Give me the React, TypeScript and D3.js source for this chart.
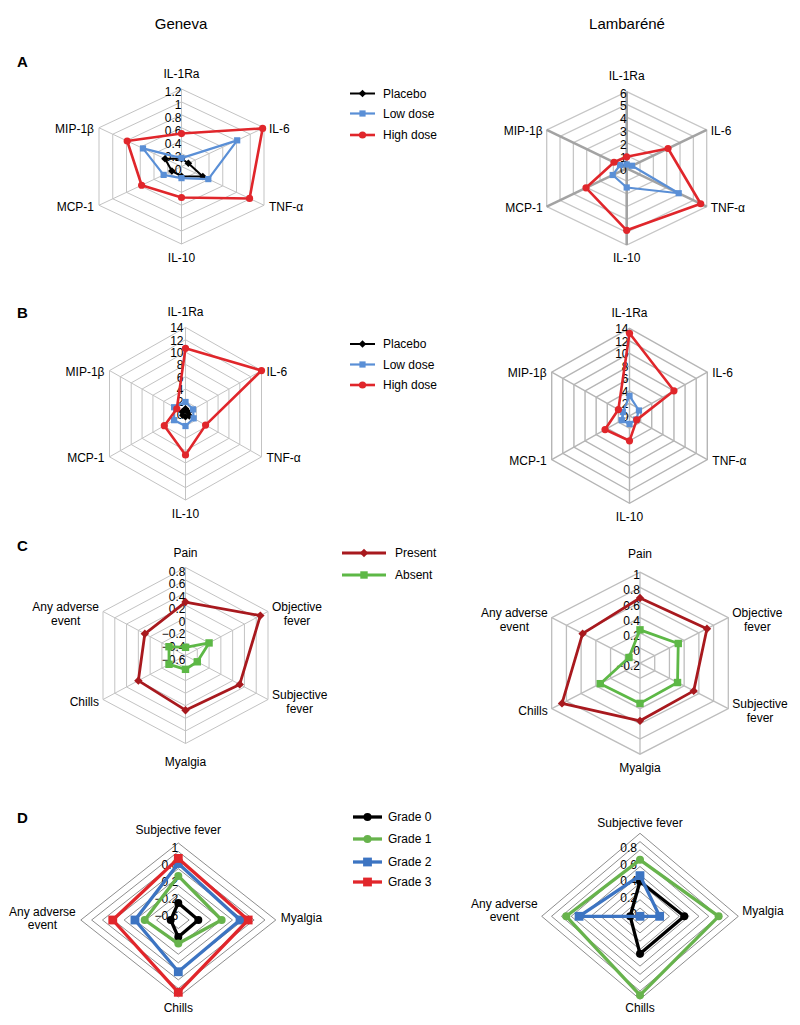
import React from 'react';
import * as d3 from 'd3';

// ---------- DATA ----------
const cytokineAxes = ['IL-1Ra', 'IL-6', 'TNF-α', 'IL-10', 'MCP-1', 'MIP-1β'];
const symptomAxesC = ['Pain', 'Objective\nfever', 'Subjective\nfever', 'Myalgia', 'Chills', 'Any adverse\nevent'];
const symptomAxesD = ['Subjective fever', 'Myalgia', 'Chills', 'Any adverse\nevent'];

// Panel A
const aGenevaPlacebo = [0.12, 0.1, 0.31, 0.15, 0.14, 0.24];
const aGenevaLow = [0.13, 0.81, 0.39, 0.18, 0.26, 0.56];
const aGenevaHigh = [0.51, 1.18, 0.99, 0.48, 0.58, 0.79];
const aLambLow = [0.3, 0.4, 3.9, 1.5, 1.05, 0.5];
const aLambHigh = [0.9, 3.1, 5.55, 4.85, 3.05, 0.95];
const aGenevaTicks = [0, 0.2, 0.4, 0.6, 0.8, 1, 1.2];
const aLambTicks = [0, 1, 2, 3, 4, 5, 6];

// Panel B
const bGenevaPlacebo = [0.8, 0.5, 0.7, 0.5, 0.5, 0.6];
const bGenevaLow = [1.9, 1.4, 1.5, 2.0, 2.1, 2.1];
const bGenevaHigh = [10.6, 14.0, 3.7, 6.7, 3.9, 1.6];
const bLambLow = [3.2, 1.7, 1.2, 1.3, 1.4, 1.2];
const bLambHigh = [13.2, 8.0, 1.3, 4.0, 4.4, 2.0];
const bTicks = [0, 2, 4, 6, 8, 10, 12, 14];

// Panel C
const cGenevaPresent = [0.25, 0.67, 0.32, 0.27, 0.2, 0.09];
const cGenevaAbsent = [-0.47, -0.2, -0.4, -0.38, -0.32, -0.32];
const cLambPresent = [0.66, 0.71, 0.53, 0.56, 0.86, 0.58];
const cLambAbsent = [0.24, 0.32, 0.31, 0.33, 0.34, -0.05];
const cGenevaTicks = [-0.6, -0.4, -0.2, 0, 0.2, 0.4, 0.6, 0.8];
const cLambTicks = [-0.2, 0, 0.2, 0.4, 0.6, 0.8, 1];

// Panel D
const dGenevaG0 = [-0.4, -0.43, -0.4, -0.66];
const dGenevaG1 = [0.23, 0.0, -0.25, -0.18];
const dGenevaG2 = [0.52, 0.34, 0.41, 0.0];
const dGenevaG3 = [0.64, 0.49, 0.89, 0.41];
const dLambG0 = [0.42, 0.45, 0.45, 0.1];
const dLambG1 = [0.68, 0.8, 0.95, 0.75];
const dLambG2 = [0.49, 0.2, 0, 0.62];
const dGenevaTicks = [-0.6, -0.2, 0.2, 0.6, 1];
const dLambTicks = [0, 0.2, 0.4, 0.6, 0.8];

const legendA = ['Placebo', 'Low dose', 'High dose'];
const legendC = ['Present', 'Absent'];
const legendD = ['Grade 0', 'Grade 1', 'Grade 2', 'Grade 3'];

// ---------- STYLES ----------
const FONT = "'Liberation Sans', Arial, Helvetica, sans-serif";
const C_BLACK = '#000000';
const C_LOW = '#5a8fd6';
const C_HIGH = '#e0262b';
const C_PRESENT = '#a8191e';
const C_ABSENT = '#5db846';
const C_G1 = '#67b34c';
const C_G2 = '#3c74c2';
const C_G3 = '#e1262b';

type MarkerType = 'circle' | 'square' | 'diamond';
type Series = { values: number[]; color: string; marker: MarkerType; width: number; ms: number };

const sPlacebo = (v: number[]): Series => ({ values: v, color: C_BLACK, marker: 'diamond', width: 2, ms: 3.8 });
const sLow = (v: number[]): Series => ({ values: v, color: C_LOW, marker: 'square', width: 2.2, ms: 3.1 });
const sHigh = (v: number[]): Series => ({ values: v, color: C_HIGH, marker: 'circle', width: 2.6, ms: 3.6 });
const sPresent = (v: number[]): Series => ({ values: v, color: C_PRESENT, marker: 'diamond', width: 2.8, ms: 4.2 });
const sAbsent = (v: number[]): Series => ({ values: v, color: C_ABSENT, marker: 'square', width: 2.8, ms: 3.7 });
const sG0 = (v: number[]): Series => ({ values: v, color: C_BLACK, marker: 'circle', width: 3.3, ms: 4 });
const sG1 = (v: number[]): Series => ({ values: v, color: C_G1, marker: 'circle', width: 3.3, ms: 4 });
const sG2 = (v: number[]): Series => ({ values: v, color: C_G2, marker: 'square', width: 3.3, ms: 4.4 });
const sG3 = (v: number[]): Series => ({ values: v, color: C_G3, marker: 'square', width: 3.3, ms: 4.4 });

let _ctx: CanvasRenderingContext2D | null = null;
function textWidth(t: string, size: number) {
  if (!_ctx) {
    const c = document.createElement('canvas');
    _ctx = c.getContext('2d');
  }
  if (!_ctx) return t.length * size * 0.55;
  _ctx.font = `${size}px ${FONT}`;
  return _ctx.measureText(t).width;
}

function Marker({ type, x, y, s, color }: { type: MarkerType; x: number; y: number; s: number; color: string }) {
  if (type === 'circle') return <circle cx={x} cy={y} r={s} fill={color} />;
  if (type === 'square') return <rect x={x - s} y={y - s} width={2 * s} height={2 * s} fill={color} />;
  return <path d={`M${x},${y - s}L${x + s},${y}L${x},${y + s}L${x - s},${y}Z`} fill={color} />;
}

type Geo = {
  cx: number; cy: number; rx: number; ry: number;
  domain: [number, number]; rings: number; ticks: number[];
  tickDy: number; tickDx: number;
  ringColor: string; ringWidth: number; spokeColor: string; spokeWidth: number; spokes: boolean;
  topGap: number; bottomGap: number; sidePad: number; sideDy: number;
};

function fmt(v: number) {
  const s = d3.format('~g')(Math.round(v * 1000) / 1000);
  return s.replace('-', '\u2212');
}

function Radar({ geo, axes, series }: { geo: Geo; axes: string[]; series: Series[] }) {
  const n = axes.length;
  const r = d3.scaleLinear().domain(geo.domain).range([0, 1]);
  const ang = (i: number) => (2 * Math.PI * i) / n;
  const pt = (i: number, f: number): [number, number] => [
    geo.cx + geo.rx * f * Math.sin(ang(i)),
    geo.cy - geo.ry * f * Math.cos(ang(i)),
  ];
  const closed = d3.line().curve(d3.curveLinearClosed);
  const ringFr = d3.range(1, geo.rings + 1).map((k) => k / geo.rings);
  const fs = 12;
  const lh = 13.5;
  return (
    <g>
      {ringFr.map((f, k) => (
        <path key={'r' + k} d={closed(d3.range(n).map((i) => pt(i, f))) || ''} fill="none" stroke={geo.ringColor} strokeWidth={geo.ringWidth} />
      ))}
      {geo.spokes &&
        d3.range(n).map((i) => {
          const [x, y] = pt(i, 1);
          return <line key={'s' + i} x1={geo.cx} y1={geo.cy} x2={x} y2={y} stroke={geo.spokeColor} strokeWidth={geo.spokeWidth} />;
        })}
      {geo.ticks.map((v, k) => (
        <text key={'t' + k} x={geo.cx + geo.tickDx} y={geo.cy - geo.ry * r(v) + geo.tickDy} textAnchor="end" dominantBaseline="central" fontSize={fs} fontFamily={FONT} fill="#000">
          {fmt(v)}
        </text>
      ))}
      {axes.map((label, i) => {
        const lines = label.split('\n');
        const [vx, vy] = pt(i, 1);
        const s = Math.sin(ang(i));
        const c = Math.cos(ang(i));
        if (Math.abs(s) < 0.1) {
          if (c > 0) {
            const base = vy - geo.topGap - (lines.length - 1) * lh;
            return (
              <text key={'l' + i} x={vx} y={base} textAnchor="middle" fontSize={fs} fontFamily={FONT}>
                {lines.map((ln, j) => <tspan key={j} x={vx} dy={j === 0 ? 0 : lh}>{ln}</tspan>)}
              </text>
            );
          }
          return (
            <text key={'l' + i} x={vx} y={vy + geo.bottomGap} textAnchor="middle" fontSize={fs} fontFamily={FONT}>
              {lines.map((ln, j) => <tspan key={j} x={vx} dy={j === 0 ? 0 : lh}>{ln}</tspan>)}
            </text>
          );
        }
        const w = Math.max(...lines.map((ln) => textWidth(ln, fs)));
        const x = s > 0 ? vx + geo.sidePad + w / 2 : vx - geo.sidePad - w / 2;
        const y0 = vy + geo.sideDy - ((lines.length - 1) * lh) / 2 + fs * 0.36;
        return (
          <text key={'l' + i} x={x} y={y0} textAnchor="middle" fontSize={fs} fontFamily={FONT}>
            {lines.map((ln, j) => <tspan key={j} x={x} dy={j === 0 ? 0 : lh}>{ln}</tspan>)}
          </text>
        );
      })}
      {series.map((se, k) => {
        const pts = se.values.map((v, i) => pt(i, r(v)));
        return (
          <g key={'se' + k}>
            <path d={closed(pts) || ''} fill="none" stroke={se.color} strokeWidth={se.width} strokeLinejoin="round" />
            {pts.map(([x, y], i) => <Marker key={i} type={se.marker} x={x} y={y} s={se.ms} color={se.color} />)}
          </g>
        );
      })}
    </g>
  );
}

function Legend({ x1, x2, tx, ys, labels, series }: { x1: number; x2: number; tx: number; ys: number[]; labels: string[]; series: Series[] }) {
  return (
    <g>
      {labels.map((lab, i) => {
        const se = series[i];
        const y = ys[i];
        return (
          <g key={i}>
            <line x1={x1} x2={x2} y1={y} y2={y} stroke={se.color} strokeWidth={se.width} />
            <Marker type={se.marker} x={(x1 + x2) / 2} y={y} s={se.ms} color={se.color} />
            <text x={tx} y={y} dominantBaseline="central" fontSize={12} fontFamily={FONT}>{lab}</text>
          </g>
        );
      })}
    </g>
  );
}

const H = 1 / Math.sin(Math.PI / 3);
const thin = { ringColor: '#c3c3c3', ringWidth: 1, spokeColor: '#c3c3c3', spokeWidth: 1, spokes: true };

const geoAG: Geo = { cx: 181.5, cy: 166.5, rx: 82.5 * H, ry: 77.5, domain: [0, 1.2], rings: 6, ticks: aGenevaTicks, tickDy: 3, tickDx: 0, ...thin, topGap: 11, bottomGap: 18, sidePad: 5, sideDy: 1 };
const geoAL: Geo = { cx: 626.7, cy: 168.3, rx: 80 * H, ry: 76.7, domain: [0, 6], rings: 6, ticks: aLambTicks, tickDy: 2, tickDx: 0, ringColor: '#c6c6c6', ringWidth: 1.3, spokeColor: '#a3a3a3', spokeWidth: 2.6, spokes: true, topGap: 12, bottomGap: 17, sidePad: 4, sideDy: 1 };
const geoBG: Geo = { cx: 185.5, cy: 413.7, rx: 76 * H, ry: 86.3, domain: [0, 14], rings: 7, ticks: bTicks, tickDy: 1, tickDx: -2, ...thin, topGap: 11, bottomGap: 18, sidePad: 5, sideDy: 1 };
const geoBL: Geo = { cx: 629.5, cy: 415.8, rx: 77.8 * H, ry: 87.5, domain: [0, 14], rings: 7, ticks: bTicks, tickDy: 1, tickDx: -1, ringColor: '#b5b5b5', ringWidth: 1.4, spokeColor: '#b5b5b5', spokeWidth: 1.4, spokes: true, topGap: 11, bottomGap: 18, sidePad: 5, sideDy: 1 };
const geoCG: Geo = { cx: 185.5, cy: 655.5, rx: 82.5 * H, ry: 88, domain: [-0.6, 0.8], rings: 7, ticks: cGenevaTicks, tickDy: 4, tickDx: 0, ...thin, topGap: 11, bottomGap: 22, sidePad: 4, sideDy: 2 };
const geoCL: Geo = { cx: 640, cy: 663.2, rx: 88.3 * H, ry: 91, domain: [-0.2, 1], rings: 6, ticks: cLambTicks, tickDy: 3, tickDx: 0, ringColor: '#bdbdbd', ringWidth: 1.3, spokeColor: '#bdbdbd', spokeWidth: 1.3, spokes: true, topGap: 14, bottomGap: 18, sidePad: 4, sideDy: 2 };
const geoDG: Geo = { cx: 178.3, cy: 920, rx: 97.5, ry: 77, domain: [-0.8, 1], rings: 9, ticks: dGenevaTicks, tickDy: 5, tickDx: 0, ringColor: '#808080', ringWidth: 0.9, spokeColor: '#808080', spokeWidth: 0, spokes: false, topGap: 9, bottomGap: 15, sidePad: 5, sideDy: -2 };
const geoDL: Geo = { cx: 640, cy: 916.3, rx: 98.3, ry: 83, domain: [0, 1], rings: 10, ticks: dLambTicks, tickDy: -2, tickDx: -3, ringColor: '#808080', ringWidth: 0.9, spokeColor: '#808080', spokeWidth: 0, spokes: false, topGap: 6, bottomGap: 13, sidePad: 4, sideDy: -6 };

export default function App() {
  const legASeries = [sPlacebo([]), sLow([]), sHigh([])];
  const legCSeries = [sPresent([]), sAbsent([])];
  const legDSeries = [sG0([]), sG1([]), sG2([]), sG3([])];
  return (
    <svg width={800} height={1025} viewBox="0 0 800 1025" style={{ position: 'absolute', left: 0, top: 0, background: '#fff' }} fontFamily={FONT}>
      <rect x={0} y={0} width={800} height={1025} fill="#fff" />
      <text x={181} y={29} textAnchor="middle" fontSize={15}>Geneva</text>
      <text x={627} y={29} textAnchor="middle" fontSize={15}>Lambaréné</text>
      <text x={17} y={67} fontSize={15} fontWeight="bold">A</text>
      <text x={17} y={318} fontSize={15} fontWeight="bold">B</text>
      <text x={17} y={551} fontSize={15} fontWeight="bold">C</text>
      <text x={17} y={823} fontSize={15} fontWeight="bold">D</text>

      <Radar geo={geoAG} axes={cytokineAxes} series={[sPlacebo(aGenevaPlacebo), sLow(aGenevaLow), sHigh(aGenevaHigh)]} />
      <Radar geo={geoAL} axes={cytokineAxes} series={[sLow(aLambLow), sHigh(aLambHigh)]} />
      <Legend x1={350} x2={375} tx={383} ys={[93.5, 113.5, 135]} labels={legendA} series={legASeries} />

      <Radar geo={geoBG} axes={cytokineAxes} series={[sPlacebo(bGenevaPlacebo), sLow(bGenevaLow), sHigh(bGenevaHigh)]} />
      <Radar geo={geoBL} axes={cytokineAxes} series={[sLow(bLambLow), sHigh(bLambHigh)]} />
      <Legend x1={350} x2={375} tx={383} ys={[344, 364.5, 385]} labels={legendA} series={legASeries} />

      <Radar geo={geoCG} axes={symptomAxesC} series={[sPresent(cGenevaPresent), sAbsent(cGenevaAbsent)]} />
      <Radar geo={geoCL} axes={symptomAxesC} series={[sPresent(cLambPresent), sAbsent(cLambAbsent)]} />
      <Legend x1={342} x2={386} tx={395} ys={[553, 575]} labels={legendC} series={legCSeries} />

      <Radar geo={geoDG} axes={symptomAxesD} series={[sG0(dGenevaG0), sG1(dGenevaG1), sG2(dGenevaG2), sG3(dGenevaG3)]} />
      <Radar geo={geoDL} axes={symptomAxesD} series={[sG0(dLambG0), sG1(dLambG1), sG2(dLambG2)]} />
      <Legend x1={353} x2={382} tx={388} ys={[817, 839, 862, 882]} labels={legendD} series={legDSeries} />
    </svg>
  );
}
